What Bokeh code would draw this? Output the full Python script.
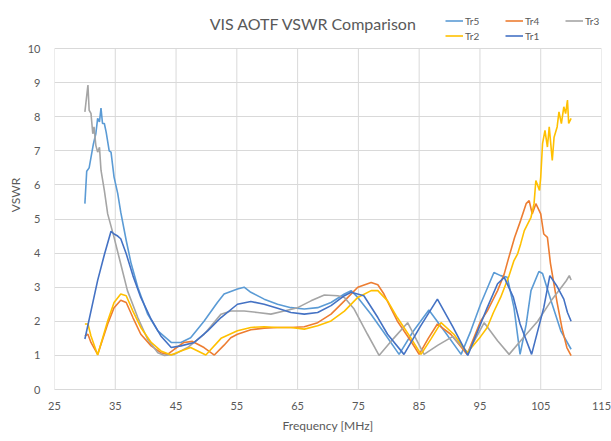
from bokeh.plotting import figure
from bokeh.models import FixedTicker, Label, Legend, LegendItem, Range1d
from bokeh.embed import file_html
from bokeh.resources import INLINE

x_ticks = [25, 35, 45, 55, 65, 75, 85, 95, 105, 115]
y_ticks = [0, 1, 2, 3, 4, 5, 6, 7, 8, 9, 10]

tr5_f = [30.0, 30.3, 30.7, 31.1, 31.4, 31.8, 32.1, 32.4, 32.65, 32.9, 33.2, 33.5, 34.0, 34.3, 34.8, 35.4, 35.9,
         36.8, 37.6, 38.7, 40.3, 42.0, 44.2, 45.8, 47.4, 49.6, 51.8, 52.9, 55.1, 56.2, 57.3, 59.5, 61.7, 63.9,
         66.1, 68.3, 70.5, 72.7, 73.8, 74.9, 77.1, 79.2, 81.7, 84.0, 86.6, 89.2, 91.9, 93.5, 95.1, 97.3, 98.4,
         99.5, 100.6, 101.6, 102.6, 103.4, 104.7, 105.3, 106.7, 108.3, 110.0]
tr5_v = [5.45, 6.4, 6.5, 6.9, 7.2, 7.5, 7.95, 7.85, 8.25, 7.8, 7.8, 7.55, 7.0, 6.96, 6.23, 5.75, 5.2,
         4.37, 3.7, 3.0, 2.22, 1.72, 1.38, 1.38, 1.52, 2.0, 2.55, 2.8, 2.95, 3.0, 2.85, 2.65, 2.5, 2.4,
         2.36, 2.4, 2.55, 2.8, 2.9, 2.7, 2.2, 1.67, 1.03, 1.7, 2.33, 1.7, 1.03, 1.72, 2.5, 3.43, 3.34,
         3.29, 2.4, 1.03, 1.9, 2.9, 3.46, 3.4, 2.6, 1.72, 1.18]

tr4_f = [30.0, 30.5, 31.0, 32.1, 33.75, 34.8, 35.9, 36.8, 37.9, 39.2, 40.9, 42.5, 43.6, 44.7, 46.3, 47.7,
         49.6, 51.3, 52.9, 54.0, 55.1, 57.3, 59.5, 61.7, 63.9, 66.1, 68.3, 70.5, 72.7, 74.9, 77.1, 78.2,
         79.2, 81.4, 83.6, 85.0, 86.5, 88.0, 90.2, 92.9, 95.1, 96.2, 97.9, 99.0, 99.6, 100.7, 101.7, 102.6,
         103.1, 103.6, 104.2, 105.0, 105.5, 106.1, 106.6, 107.7, 108.5, 109.3, 110.0]
tr4_v = [1.57, 1.62, 1.38, 1.03, 1.92, 2.4, 2.62, 2.55, 2.11, 1.62, 1.28, 1.08, 1.03, 1.18, 1.38, 1.41,
         1.23, 1.01, 1.3, 1.52, 1.62, 1.75, 1.8, 1.82, 1.82, 1.84, 1.96, 2.21, 2.6, 3.0, 3.14, 3.07,
         2.8, 2.01, 1.43, 1.03, 1.5, 1.92, 1.62, 1.03, 2.0, 2.3, 2.9, 3.39, 3.78, 4.46, 4.96, 5.45,
         5.54, 5.15, 5.45, 5.15, 4.56, 4.46, 3.7, 2.55, 1.8, 1.23, 0.99]

tr3_f = [30.0, 30.5, 30.7, 31.0, 31.3, 31.5, 31.8, 32.1, 32.4, 32.65, 33.2, 33.75, 34.8, 35.9, 37.0, 38.7,
         40.3, 42.0, 43.1, 44.7, 46.9, 49.6, 50.7, 52.4, 54.0, 56.2, 58.4, 60.6, 62.8, 65.0, 67.2, 69.4,
         71.6, 72.7, 74.3, 76.5, 78.4, 80.8, 83.1, 85.8, 88.1, 90.5, 93.0, 94.3, 95.7, 97.9, 99.8, 101.7,
         104.5, 106.7, 108.4, 109.2, 109.7, 110.0]
tr3_v = [8.14, 8.93, 8.19, 8.1, 7.5, 7.7, 7.16, 6.96, 7.1, 6.43, 5.84, 5.15, 4.46, 3.68, 2.9, 2.11,
         1.48, 1.08, 1.0, 1.03, 1.23, 1.62, 1.85, 2.21, 2.3, 2.3, 2.26, 2.21, 2.3, 2.4, 2.6, 2.77,
         2.75, 2.7, 2.36, 1.62, 1.0, 1.5, 1.96, 1.03, 1.3, 1.55, 1.08, 1.5, 1.96, 1.43, 1.03, 1.43,
         2.0, 2.6, 3.0, 3.19, 3.34, 3.21]

tr2_f = [30.0, 30.5, 31.0, 32.1, 33.75, 34.8, 35.9, 36.8, 37.9, 39.2, 40.9, 42.5, 44.2, 45.8, 47.4, 49.9,
         52.4, 55.1, 57.3, 59.5, 61.7, 63.9, 66.1, 68.3, 70.5, 72.7, 74.9, 77.1, 78.2, 79.8, 81.4, 83.6,
         85.3, 87.0, 88.6, 90.7, 92.9, 95.1, 96.2, 97.2, 98.4, 99.8, 100.6, 101.2, 101.7, 102.3, 103.4,
         103.9, 104.2, 104.8, 105.0, 105.3, 105.7, 106.1, 106.4, 106.9, 107.2, 107.7, 108.0, 108.4, 108.8,
         109.1, 109.4, 109.6, 110.0]
tr2_v = [1.92, 1.92, 1.57, 1.01, 2.01, 2.55, 2.8, 2.75, 2.3, 1.82, 1.38, 1.13, 1.01, 1.13, 1.23, 1.01,
         1.5, 1.72, 1.82, 1.84, 1.82, 1.82, 1.77, 1.87, 2.01, 2.3, 2.7, 2.9, 2.9, 2.6, 2.11, 1.52,
         1.03, 1.5, 1.96, 1.62, 1.08, 1.55, 1.82, 2.25, 2.7, 3.34, 3.78, 3.98, 4.27, 4.66, 5.05,
         5.45, 6.13, 5.84, 6.23, 7.21, 7.6, 7.11, 7.7, 6.72, 7.4, 7.7, 8.14, 7.8, 8.29,
         8.09, 8.49, 7.8, 7.95]

tr1_f = [30.0, 31.0, 32.1, 33.2, 34.3, 34.8, 35.4, 35.9, 36.8, 37.9, 39.2, 40.9, 42.5, 44.2, 45.8, 48.0,
         50.2, 52.4, 55.1, 57.3, 59.5, 61.7, 63.9, 66.1, 68.3, 70.5, 72.7, 73.8, 75.9, 78.2, 79.8, 82.5,
         85.2, 88.0, 90.5, 93.0, 96.2, 97.9, 99.0, 100.5, 101.6, 103.5, 105.5, 106.5, 107.6, 108.8, 109.4,
         110.0]
tr1_v = [1.48, 2.3, 3.2, 3.95, 4.64, 4.56, 4.5, 4.42, 3.98, 3.34, 2.7, 2.06, 1.57, 1.23, 1.28, 1.38,
         1.72, 2.11, 2.5, 2.58, 2.5, 2.38, 2.26, 2.21, 2.26, 2.46, 2.75, 2.85, 2.75, 2.11, 1.62, 1.03,
         1.85, 2.65, 1.85, 1.0, 2.4, 3.1, 3.29, 2.7, 1.92, 1.03, 2.4, 3.34, 3.05, 2.65, 2.26,
         2.0]

series_names = ["Tr5", "Tr4", "Tr3", "Tr2", "Tr1"]
series_colors = ["#5B9BD5", "#ED7D31", "#A5A5A5", "#FFC000", "#4472C4"]
series_data = [(tr5_f, tr5_v), (tr4_f, tr4_v), (tr3_f, tr3_v), (tr2_f, tr2_v), (tr1_f, tr1_v)]

FONT = "Lato"
TXT = "#595959"
GRID = "#D9D9D9"

# frame spans the full height above the axis so that title and legend fit inside it
Y_TOP = 389 / 34.1

p = figure(width=611, height=441, output_backend="svg", toolbar_location=None,
           x_range=Range1d(25, 115), y_range=Range1d(0, Y_TOP),
           min_border_left=54, min_border_right=10, min_border_top=0, min_border_bottom=52)
p.outline_line_color = None
p.background_fill_color = "white"
p.border_fill_color = "white"

for ax in (p.xaxis[0], p.yaxis[0]):
    ax.major_tick_line_color = None
    ax.minor_tick_line_color = None
    ax.major_label_text_font = FONT
    ax.major_label_text_font_size = "11px"
    ax.major_label_text_color = TXT
    ax.axis_label_text_font = FONT
    ax.axis_label_text_font_size = "12px"
    ax.axis_label_text_font_style = "normal"
    ax.axis_label_text_color = TXT
    ax.major_tick_out = 0
    ax.major_tick_in = 0

p.xaxis.ticker = FixedTicker(ticks=x_ticks)
p.yaxis.ticker = FixedTicker(ticks=y_ticks)
p.xaxis.axis_line_color = GRID
p.yaxis.axis_line_color = None
p.xaxis.axis_label = "Frequency [MHz]"
p.yaxis.axis_label = "VSWR"
p.xaxis.major_label_standoff = 12
p.yaxis.major_label_standoff = 14
p.xaxis.axis_label_standoff = 5
p.yaxis.axis_label_standoff = 2

p.xgrid.grid_line_color = None
p.ygrid.ticker = FixedTicker(ticks=y_ticks)
p.ygrid.grid_line_color = GRID

# vertical grid lines only up to the top tick (10)
p.segment(x0=x_ticks, y0=[y_ticks[0]] * len(x_ticks), x1=x_ticks, y1=[y_ticks[-1]] * len(x_ticks),
          line_color=GRID, line_width=1)

items = []
for name, color, (f, v) in zip(series_names, series_colors, series_data):
    r = p.line(f, v, line_color=color, line_width=1.6)
    items.append(LegendItem(label=name, renderers=[r]))

legend = Legend(items=items, location=(391, 347), orientation="horizontal", ncols=3,
                glyph_width=18, glyph_height=13, label_height=13, label_width=38,
                label_standoff=2, spacing=2, padding=0, margin=0,
                label_text_font=FONT, label_text_font_size="10px", label_text_color=TXT,
                border_line_color=None, background_fill_alpha=0)
p.add_layout(legend)

title = Label(x=259, y=366, x_units="screen", y_units="screen", text="VIS AOTF VSWR Comparison",
              text_align="center", text_baseline="middle", text_font=FONT, text_font_size="16px",
              text_color=TXT)
p.add_layout(title)

open("out.html", "w").write(file_html(p, INLINE))
